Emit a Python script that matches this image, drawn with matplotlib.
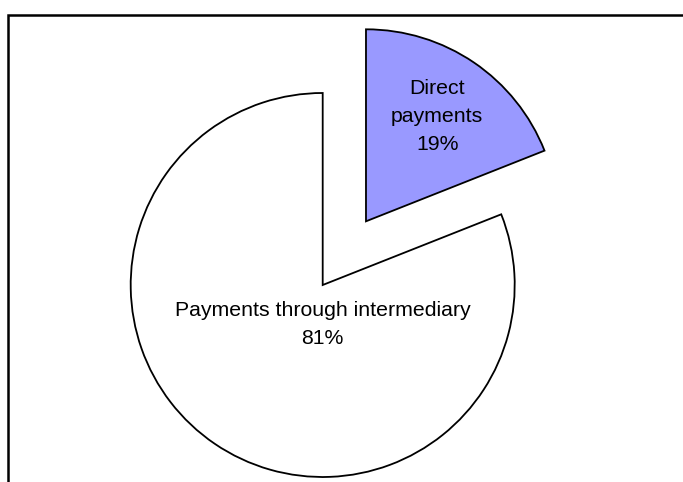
import matplotlib
matplotlib.use('Agg')
import matplotlib.pyplot as plt

plt.rcParams['font.family'] = ['Liberation Sans', 'DejaVu Sans']

# Payment channel shares
categories = ['Direct\npayments', 'Payments through intermediary']
shares = [19, 81]
colors = ['#9999FF', '#FFFFFF']

W, H = 683, 482
fig = plt.figure(figsize=(W / 100, H / 100), dpi=100)
ax = fig.add_axes([0, 0, 1, 1])

# chart area border (open on the right and bottom)
ax.plot([8, 8, W + 20], [-20, H - 15, H - 15], color='black', lw=1.8,
        solid_joinstyle='miter')

center = (322.7, H - 285)
radius = 192

wedges, texts, autotexts = ax.pie(
    shares, colors=colors, startangle=90, counterclock=False,
    explode=[77, 0], radius=radius, center=center, frame=True,
    wedgeprops=dict(edgecolor='black', linewidth=1.3),
    autopct=lambda p: '', pctdistance=0.66,
    textprops=dict(fontsize=15.3, color='black'))
ax.set_xlim(0, W)
ax.set_ylim(0, H)
ax.set_aspect('equal')
ax.axis('off')

for t, name, val in zip(autotexts, categories, shares):
    t.set_text(f'{name}\n{val}%')
    t.set_linespacing(1.6)

# larger slice label sits just below the pie centre
autotexts[1].set_position((center[0], center[1] - 40))

fig.savefig('out.png', dpi=100)
